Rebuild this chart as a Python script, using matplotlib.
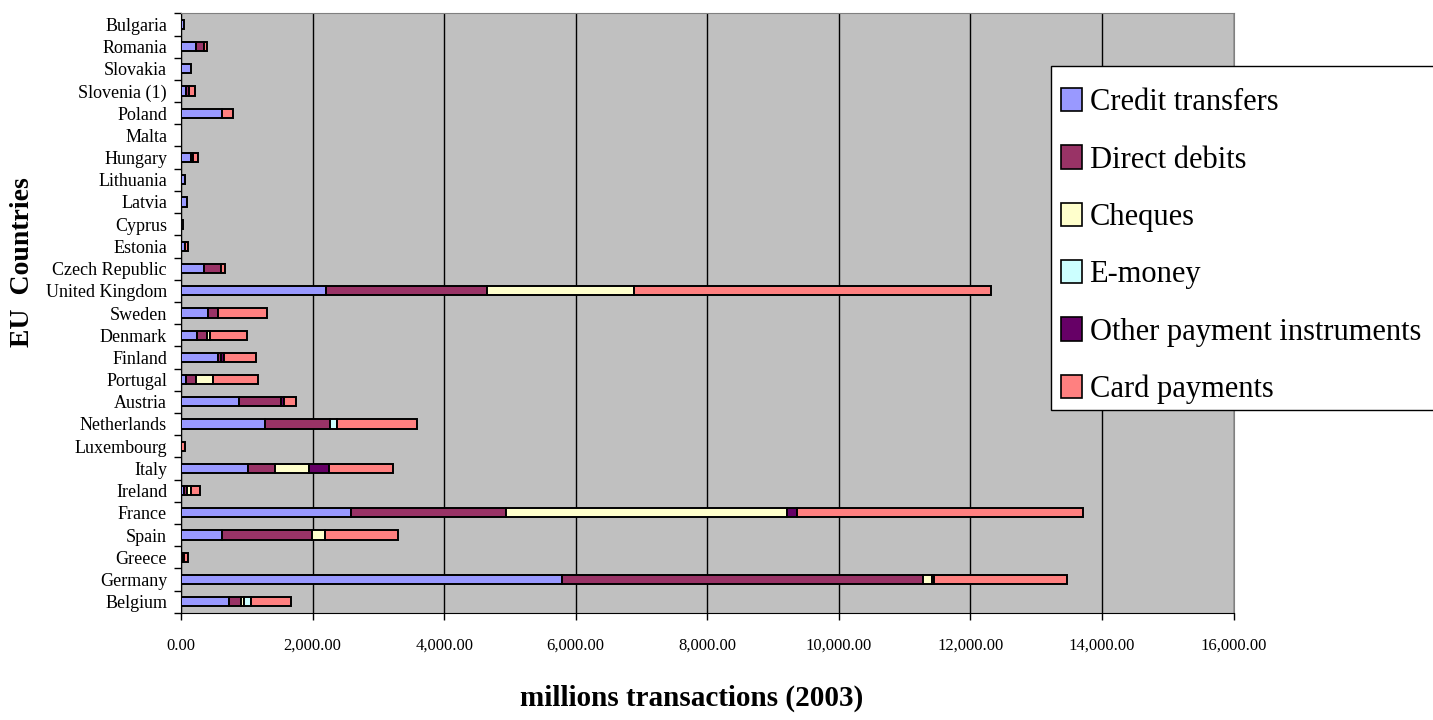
import matplotlib
matplotlib.use("Agg")
import matplotlib.pyplot as plt
from matplotlib.patches import Patch, Rectangle
from matplotlib.ticker import FixedLocator, FuncFormatter
import numpy as np

plt.rcParams['font.family'] = ['Liberation Serif', 'DejaVu Serif']

countries = ["Belgium", "Germany", "Greece", "Spain", "France", "Ireland", "Italy",
             "Luxembourg", "Netherlands", "Austria", "Portugal", "Finland", "Denmark",
             "Sweden", "United Kingdom", "Czech Republic", "Estonia", "Cyprus", "Latvia",
             "Lithuania", "Hungary", "Malta", "Poland", "Slovenia (1)", "Slovakia",
             "Romania", "Bulgaria"]

credit_transfers = [728, 5786, 25, 627, 2585, 43, 1022, 5, 1271, 875, 79, 566, 246,
                    414, 2210, 353, 58, 30, 88, 64, 155, 0, 627, 79, 150, 226, 40]
direct_debits = [178, 5491, 0, 1370, 2354, 41, 411, 0, 999, 644, 152, 45, 152,
                 152, 2435, 253, 0, 0, 0, 0, 20, 0, 0, 46, 0, 127, 0]
cheques = [50, 136, 0, 187, 4272, 61, 507, 0, 0, 0, 248, 0, 36,
           0, 2247, 0, 0, 0, 0, 0, 0, 0, 0, 0, 0, 0, 0]
e_money = [112, 34, 0, 0, 0, 0, 0, 0, 107, 0, 0, 0, 0,
           0, 0, 0, 0, 0, 0, 0, 0, 0, 0, 0, 0, 0, 0]
other_instruments = [0, 0, 15, 0, 149, 0, 315, 0, 0, 51, 0, 36, 0,
                     0, 0, 0, 0, 0, 0, 0, 0, 0, 0, 0, 0, 0, 0]
card_payments = [599, 2018, 64, 1111, 4350, 147, 974, 55, 1212, 178, 690, 497, 568,
                 746, 5418, 61, 52, 0, 0, 0, 81, 0, 168, 85, 0, 46, 0]

series_names = ["Credit transfers", "Direct debits", "Cheques", "E-money",
                "Other payment instruments", "Card payments"]
series_values = [credit_transfers, direct_debits, cheques, e_money,
                 other_instruments, card_payments]
series_colors = ["#9999FF", "#993366", "#FFFFCC", "#CCFFFF", "#660066", "#FF8080"]

x_ticks = [0, 2000, 4000, 6000, 8000, 10000, 12000, 14000, 16000]

W, H = 1433, 720
fig = plt.figure(figsize=(14.33, 7.2), dpi=100)
ax = fig.add_axes([181/W, 1-612.7/H, (1233.5-181)/W, (612.7-13.3)/H])
ax.set_facecolor("#C0C0C0")

y = np.arange(len(countries))
left = np.zeros(len(countries))
for vals, col in zip(series_values, series_colors):
    v = np.array(vals, dtype=float)
    bars = ax.barh(y, v, left=left, height=0.42, color=col, edgecolor="black",
                   linewidth=1.4, zorder=3)
    for b, w in zip(bars, v):
        if w == 0:
            b.set_visible(False)
    left += v

ax.set_xlim(0, 16000)
ax.set_ylim(-0.5, len(countries) - 0.5)
ax.xaxis.set_major_locator(FixedLocator(x_ticks))
ax.xaxis.set_major_formatter(FuncFormatter(lambda v, p: f"{v:,.2f}"))
ax.grid(axis="x", color="black", linewidth=1.0, zorder=1)
ax.tick_params(axis="x", direction="out", length=5, width=1, pad=13, labelsize=12)

ax.yaxis.set_major_locator(FixedLocator(np.arange(-0.5, len(countries), 1.0)))
ax.yaxis.set_major_formatter(FuncFormatter(lambda v, p: ""))
ax.yaxis.set_minor_locator(FixedLocator(y))
ax.set_yticklabels(countries, minor=True)
ax.tick_params(axis="y", which="major", direction="out", length=5, width=1)
ax.tick_params(axis="y", which="minor", length=0, pad=10, labelsize=13)

for s in ["top", "right"]:
    ax.spines[s].set_color("#808080")
for s in ["left", "bottom"]:
    ax.spines[s].set_color("black")

fig.text(522/W + (862-522)/2/W, 1-698/H, "millions transactions (2003)",
         ha="center", va="center", fontsize=21, fontweight="bold")
fig.text(23/W, 1-262/H, "EU  Countries", rotation=90, ha="center", va="center",
         fontsize=20, fontweight="bold")

# legend frame
frame = Rectangle((1051/W, 1-410/H), (1445-1051)/W, (410-65.7)/H,
                  transform=fig.transFigure, facecolor="white", edgecolor="black",
                  linewidth=1.0, clip_on=False, zorder=4)
fig.add_artist(frame)

handles = [Patch(facecolor=c, edgecolor="black", linewidth=1.2) for c in series_colors]
leg = fig.legend(handles, series_names, loc="upper left",
                 bbox_to_anchor=(1051/W, 1-77.7/H), bbox_transform=fig.transFigure,
                 fontsize=22, frameon=False, borderaxespad=0, handlelength=0.68,
                 handleheight=0.8, handletextpad=0.25, labelspacing=0.92,
                 borderpad=0.33)
leg.set_zorder(5)

fig.savefig("out.png", dpi=100)
